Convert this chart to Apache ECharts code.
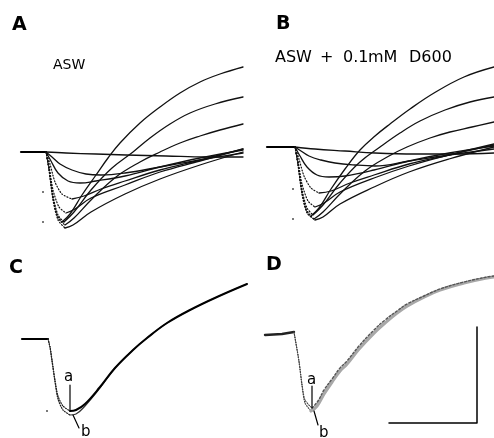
<!DOCTYPE html>
<html>
<head>
<meta charset="utf-8">
<script src="https://cdn.jsdelivr.net/npm/echarts@6/dist/echarts.min.js"></script>
<style>html,body{margin:0;padding:0;background:#fff}#c{width:494px;height:438px}</style>
</head>
<body>
<div id="c"></div>
<script>
// ---- Data (time after step onset, current relative to holding level; inward = negative) ----
// Panel A: ASW, family of currents
const baseA = [[-25, 0], [0, 0]];
const aT1 = [[0,0],[20,-1],[50,-2],[80,-3],[120,-4],[160,-5],[197,-5]];
const aT2 = [[0,0],[6,-5],[14,-12],[26,-18],[40,-22],[55,-23],[79,-21],[114,-15],[154,-8],[197,-1]];
const aT3 = [[0,0],[5,-9],[12,-21],[22,-29],[34,-31],[50,-29],[79,-24],[114,-15],[154,-6],[197,2]];
const aT4 = [[0,0],[4,-12],[9,-30],[16,-42],[26,-47],[38,-44],[55,-37],[79,-29],[114,-18],[154,-8],[197,3]];
const aT5 = [[0,0],[3,-14],[7,-38],[13,-55],[20,-61],[29,-57],[45,-46],[79,-33],[114,-20],[154,-9],[197,3]];
const aT6 = [[0,0],[3,-18],[7,-48],[12,-68],[19,-76],[27,-73],[45,-60],[79,-42],[114,-27],[154,-13],[197,0]];
const aT7 = [[0,0],[3,-17],[7,-46],[12,-66],[19,-73],[28,-66],[45,-48],[70,-25],[94,-10],[114,0],[134,9],[154,16],[174,22],[197,28]];
const aT8 = [[0,0],[3,-16],[7,-44],[12,-63],[18,-70],[28,-60],[45,-38],[66,-16],[87,0],[104,14],[124,28],[144,39],[169,48],[197,55]];
const aT9 = [[0,0],[3,-16],[7,-45],[11,-63],[16,-70],[24,-62],[36,-43],[50,-23],[62,-6],[74,9],[94,29],[114,45],[134,59],[154,70],[174,78],[197,85]];
const aDots = [[-3,-40],[-3,-70]];

// Panel B: ASW + 0.1 mM D600
const baseB = [[-28, 0], [0, 0]];
const bT1 = [[0,0],[20,-2],[50,-4],[80,-6],[120,-7],[160,-7],[199,-6]];
const bT2 = [[0,0],[6,-4],[14,-9],[26,-13],[40,-16],[60,-18],[80,-19],[114,-14],[154,-8],[199,-2]];
const bT3 = [[0,0],[5,-9],[12,-20],[22,-28],[34,-30],[50,-29],[79,-23],[114,-14],[154,-6],[199,1]];
const bT4 = [[0,0],[4,-12],[9,-29],[16,-41],[24,-46],[36,-44],[55,-36],[79,-28],[114,-17],[154,-8],[199,2]];
const bT5 = [[0,0],[3,-14],[7,-37],[13,-54],[20,-60],[29,-56],[45,-45],[79,-31],[114,-19],[154,-8],[199,3]];
const bT6 = [[0,0],[3,-18],[7,-47],[12,-66],[20,-73],[28,-70],[45,-57],[79,-40],[114,-25],[154,-12],[199,0]];
const bT7 = [[0,0],[3,-17],[7,-46],[12,-65],[19,-72],[28,-65],[45,-47],[70,-24],[94,-9],[112,0],[135,9],[155,15],[177,20],[199,25]];
const bT8 = [[0,0],[3,-16],[7,-43],[12,-61],[18,-68],[28,-58],[45,-36],[65,-15],[85,0],[105,14],[125,26],[150,37],[175,45],[199,50]];
const bT9 = [[0,0],[3,-16],[7,-44],[11,-62],[16,-69],[24,-61],[36,-42],[50,-22],[65,-3],[80,11],[95,23],[115,38],[139,54],[169,70],[199,80]];
const bDots = [[-2,-42],[-2,-72]];

// Panel C: ASW, traces a and b superimposed
const baseC = [[-26, 0], [0, 0]];
const cA = [[0,0],[2,-8],[4,-21],[7,-41],[10,-57],[15,-67],[22,-72],[28,-71],[37,-65],[52,-48],[67,-29],[85,-11],[99,1],[119,16],[142,29],[169,42],[199,55]];
const cB = [[0,0],[2,-8],[4,-22],[7,-43],[10,-60],[15,-71],[22,-76],[28,-75],[37,-67],[52,-49],[67,-29],[85,-11],[99,1],[119,16],[142,29],[169,42],[199,55]];
const cDots = [[-1,-72]];
const cPointerA = [[22,-46],[22,-72]];
const cPointerB = [[25,-76],[31,-89]];

// Panel D: ASW + D600, traces a and b superimposed
const baseD = [[-29,-1],[-12,0],[0,2]];
const dA = [[0,2],[5,-27],[8,-50],[11,-66],[18,-74],[24,-67],[30,-56],[38,-45],[46,-34],[53,-27],[65,-12],[79,3],[91,14],[103,23],[113,30],[130,38],[146,45],[170,52],[193,57],[200,58]];
const dB = [[0,2],[5,-28],[8,-52],[11,-69],[17,-77],[23,-72],[30,-60],[38,-48],[46,-37],[53,-30],[65,-15],[79,0],[91,11],[103,21],[113,28],[130,37],[146,44],[170,51],[193,56],[200,57]];
const dPointerA = [[18,-52],[18,-74]];
const dPointerB = [[20,-77],[24,-91]];
const scaleBar = [[95,-89],[183,-89],[183,7]];

const tracesA = [aT1,aT2,aT3,aT4,aT5,aT6,aT7,aT8,aT9];
const tracesB = [bT1,bT2,bT3,bT4,bT5,bT6,bT7,bT8,bT9];

// ---- Build options ----
const FONT = 'DejaVu Sans';
const FAST_LIMIT = 26;
const grids = [
  {left: 21, top: 55, width: 222, height: 180},   // A
  {left: 267, top: 50, width: 227, height: 180},  // B
  {left: 22, top: 270, width: 226, height: 168},  // C
  {left: 265, top: 265, width: 229, height: 173}  // D
];
const xr = [[-25,197],[-28,199],[-26,200],[-29,200]];
const yr = [[-83,97],[-83,97],[-99,69],[-104,69]];

const series = [];
function line(gi, data, style, smooth) {
  series.push({
    type: 'line', xAxisIndex: gi, yAxisIndex: gi, data: data,
    symbol: 'none', showSymbol: false, smooth: smooth === undefined ? 0.4 : smooth,
    clip: false, silent: true, animation: false,
    lineStyle: Object.assign({cap: 'round', join: 'round'}, style)
  });
}
function dots(gi, data, size) {
  series.push({type: 'scatter', xAxisIndex: gi, yAxisIndex: gi, data: data,
    symbolSize: size, itemStyle: {color: '#222'}, silent: true, animation: false});
}
function trace(gi, tr, solid, dotted) {
  let k = 0;
  for (let j = 1; j < tr.length; j++) if (tr[j][1] < tr[k][1]) k = j;
  if (tr[k][0] > FAST_LIMIT) { line(gi, tr, solid); return; }
  line(gi, tr.slice(0, k + 1), dotted, 0.25);
  line(gi, tr.slice(k), solid);
}

const solidAB = {color: '#111', width: 1.3};
const dottedAB = {color: '#111', width: 1.2, type: [1, 2]};
line(0, baseA, {color: '#000', width: 2.2}, false);
tracesA.forEach(t => trace(0, t, solidAB, dottedAB));
dots(0, aDots, 2);
line(1, baseB, {color: '#000', width: 2.2}, false);
tracesB.forEach(t => trace(1, t, solidAB, dottedAB));
dots(1, bDots, 2);

const solidC = {color: '#000', width: 2};
const dottedC = {color: '#222', width: 1.2, type: [1, 1.5]};
line(2, baseC, {color: '#000', width: 2.2}, false);
trace(2, cB, {color: '#333', width: 1.2}, dottedC);
trace(2, cA, solidC, dottedC);
dots(2, cDots, 2);
line(2, cPointerA, {color: '#000', width: 1.2}, false);
line(2, cPointerB, {color: '#000', width: 1.2}, false);

const dottedD = {color: '#444', width: 1.1, type: [1, 1.5]};
line(3, baseD, {color: '#222', width: 2.4}, false);
trace(3, dB, {color: '#a8a8a8', width: 3.2}, dottedD);
trace(3, dA, {color: '#555', width: 1.4, type: [2, 2]}, dottedD);
line(3, dPointerA, {color: '#000', width: 1.2}, false);
line(3, dPointerB, {color: '#000', width: 1.2}, false);
line(3, scaleBar, {color: '#000', width: 1.5}, false);

const xAxis = grids.map((g, i) => ({type: 'value', gridIndex: i, min: xr[i][0], max: xr[i][1], show: false}));
const yAxis = grids.map((g, i) => ({type: 'value', gridIndex: i, min: yr[i][0], max: yr[i][1], show: false}));

function txt(s, x, y, size, weight) {
  return {type: 'text', left: x, top: y - size / 2, silent: true,
    style: {text: s, font: (weight || 'normal') + ' ' + size + 'px "' + FONT + '"', fill: '#000'}};
}
const graphic = [
  txt('A', 12, 25, 19, 'bold'), txt('B', 276, 24, 19, 'bold'), txt('C', 9, 268, 19, 'bold'), txt('D', 266, 265, 19, 'bold'),
  txt('ASW', 53, 65, 14),
  txt('ASW', 275, 57.5, 16), txt('+', 320, 57.5, 16), txt('0.1', 343, 57.5, 16),
  txt('mM', 368, 57.5, 16), txt('D600', 409, 57.5, 16),
  txt('a', 64, 377, 15), txt('b', 81, 432, 15),
  txt('a', 307, 380, 15), txt('b', 319, 433, 15)
];

const chart = echarts.init(document.getElementById('c'), null, {renderer: 'canvas'});
chart.setOption({
  backgroundColor: '#fff', animation: false,
  grid: grids, xAxis: xAxis, yAxis: yAxis, series: series, graphic: graphic
});
</script>
</body>
</html>
